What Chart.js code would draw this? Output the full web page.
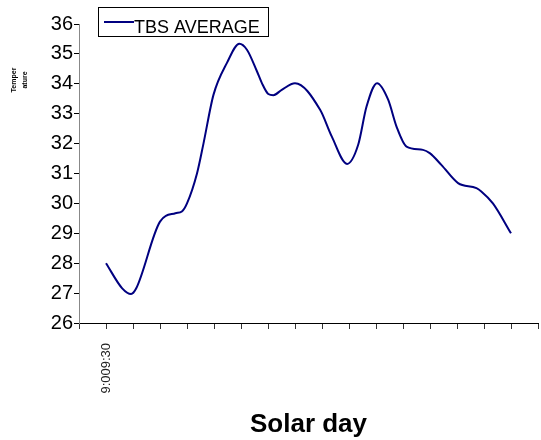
<!DOCTYPE html>
<html>
<head>
<meta charset="utf-8">
<script src="https://cdn.jsdelivr.net/npm/chart.js@4/dist/chart.umd.min.js"></script>
<style>
  html, body { margin: 0; padding: 0; background: #fff; }
  canvas { display: block; }
</style>
</head>
<body>
<canvas id="chart" width="541" height="440"></canvas>
<script>
// Data (x in tick units along the solar day axis)
const solarDay = [1.0, 1.6, 1.93, 2.12, 3.0, 3.57, 3.81, 4.0, 4.37, 4.61, 4.98, 5.48, 5.94, 6.22, 6.59, 6.77, 7.01, 7.2, 7.51,
    8.0, 8.93, 9.36, 9.93, 10.34, 10.65, 11.04, 11.45, 11.76, 12.13, 12.74, 12.99, 13.42, 14.04, 14.72, 14.9, 15.33, 16.0];
const tbsAverage = [28.0, 27.16, 26.97, 27.16, 29.39, 29.67, 29.73, 30.0, 31.0, 32.0, 33.63, 34.7, 35.34, 35.14, 34.42, 34.03, 33.66, 33.62, 33.8,
    34.02, 33.13, 32.24, 31.32, 31.96, 33.24, 34.02, 33.47, 32.57, 31.9, 31.79, 31.68, 31.29, 30.68, 30.51, 30.4, 30.0, 29.0];

const tickPositions = [1];
const tickTexts = ['9:009:30'];
const seriesName = 'TBS AVERAGE';
const yTitleLines = ['Temper', 'ature'];
const xTitle = 'Solar day';

const FONT = '"Liberation Sans", Arial, sans-serif';

// Legend box and the small rotated y title, drawn on top
const overlayText = {
    id: 'overlayText',
    afterDraw(chart) {
        const ctx = chart.ctx;
        const ds = chart.data.datasets[0];
        ctx.save();
        ctx.strokeStyle = '#000';
        ctx.lineWidth = 1;
        ctx.strokeRect(98.5, 7.5, 170, 29);
        ctx.strokeStyle = ds.borderColor;
        ctx.lineWidth = 2;
        ctx.beginPath();
        ctx.moveTo(104, 22);
        ctx.lineTo(134, 22);
        ctx.stroke();
        ctx.fillStyle = '#000';
        ctx.font = '18px ' + FONT;
        ctx.textBaseline = 'alphabetic';
        ctx.fillText(ds.label, 134, 33);

        ctx.translate(14, 80);
        ctx.rotate(-Math.PI / 2);
        ctx.font = 'bold 7px ' + FONT;
        ctx.textAlign = 'center';
        ctx.textBaseline = 'middle';
        yTitleLines.forEach((line, i) => ctx.fillText(line, 0, i * 11));
        ctx.restore();
    }
};

const points = solarDay.map((x, i) => ({ x: x, y: tbsAverage[i] }));

new Chart(document.getElementById('chart'), {
    type: 'line',
    data: {
        datasets: [{
            label: seriesName,
            data: points,
            borderColor: '#000080',
            borderWidth: 2,
            pointRadius: 0,
            fill: false,
            cubicInterpolationMode: 'monotone'
        }]
    },
    options: {
        responsive: false,
        animation: false,
        layout: { padding: { top: 24, right: 3, left: 0, bottom: 0 } },
        plugins: {
            legend: { display: false },
            tooltip: { enabled: false }
        },
        scales: {
            x: {
                type: 'linear',
                min: 0,
                max: 17,
                afterFit: (scale) => {
                    scale.height = 117;
                    scale.paddingLeft = 0;
                    scale.paddingRight = 0;
                },
                border: { color: '#000', width: 1 },
                grid: { drawOnChartArea: false, drawTicks: true, tickLength: 6, color: '#333' },
                ticks: {
                    stepSize: 1,
                    autoSkip: false,
                    maxRotation: 90,
                    minRotation: 90,
                    padding: 14,
                    color: '#222',
                    font: { family: FONT, size: 13 },
                    callback: (v) => {
                        const k = tickPositions.indexOf(v);
                        return k >= 0 ? tickTexts[k] : '';
                    }
                },
                title: {
                    display: true,
                    text: xTitle,
                    color: '#000',
                    font: { family: FONT, size: 26, weight: 'bold' },
                    padding: { top: 0, bottom: 0 }
                }
            },
            y: {
                min: 26,
                max: 36,
                afterFit: (scale) => { scale.width = 79; },
                border: { color: '#888', width: 1 },
                grid: { drawOnChartArea: false, drawTicks: true, tickLength: 5, color: '#000' },
                ticks: {
                    stepSize: 1,
                    padding: 1,
                    color: '#000',
                    font: { family: FONT, size: 20 }
                }
            }
        }
    },
    plugins: [overlayText]
});
</script>
</body>
</html>
